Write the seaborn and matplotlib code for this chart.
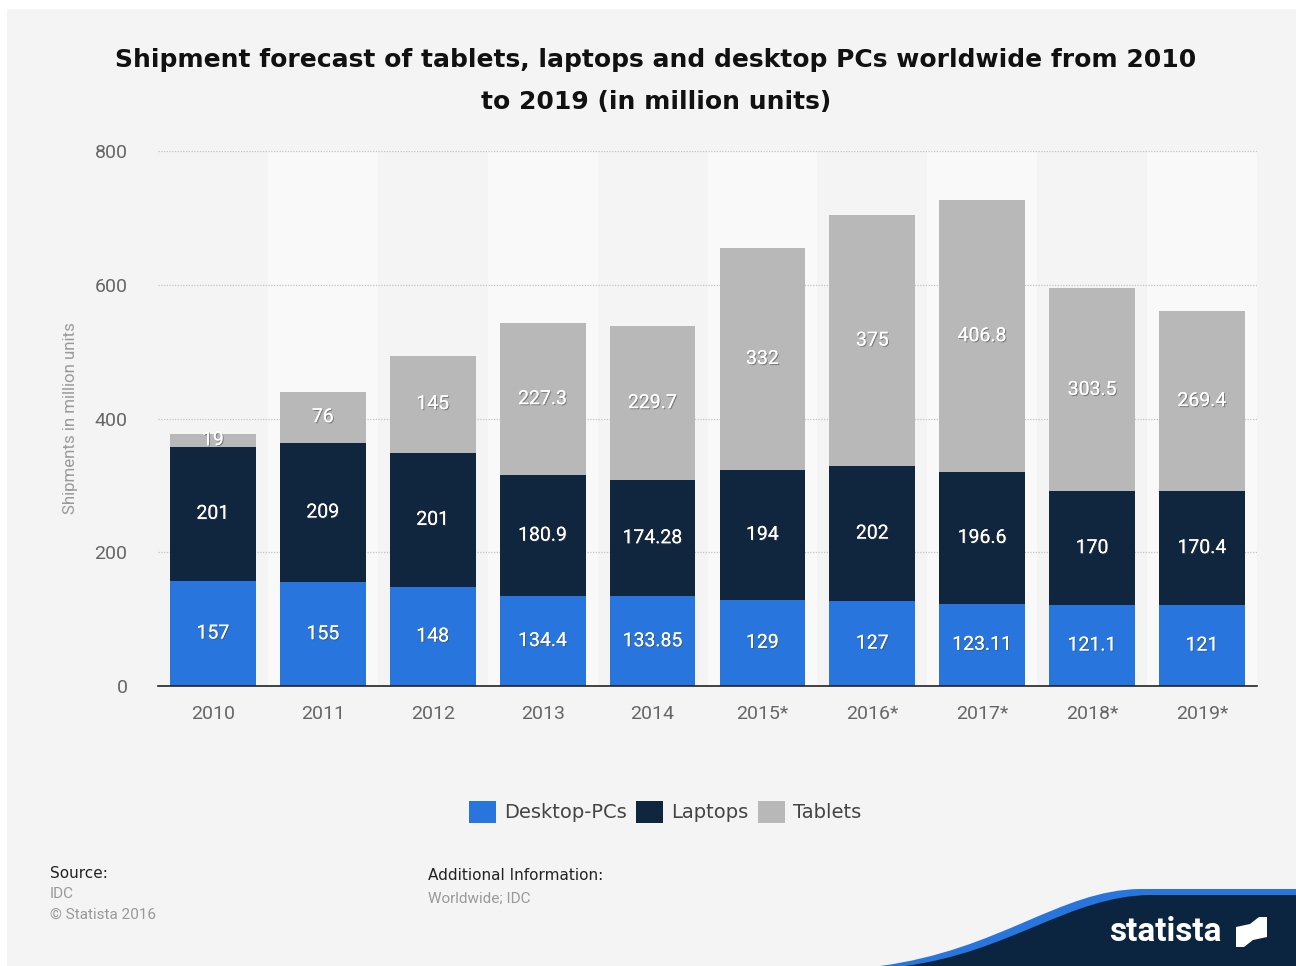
import matplotlib
matplotlib.use("Agg")
import matplotlib.pyplot as plt
import matplotlib.patheffects as pe
from matplotlib.path import Path
from matplotlib.patches import PathPatch, Rectangle
import numpy as np
import pandas as pd
import seaborn as sns

years = ["2010", "2011", "2012", "2013", "2014", "2015*", "2016*", "2017*", "2018*", "2019*"]
desktop = [157, 155, 148, 134.4, 133.85, 129, 127, 123.11, 121.1, 121]
laptops = [201, 209, 201, 180.9, 174.28, 194, 202, 196.6, 170, 170.4]
tablets = [19, 76, 145, 227.3, 229.7, 332, 375, 406.8, 303.5, 269.4]
series_names = ["Desktop-PCs", "Laptops", "Tablets"]
colors = ["#2876dd", "#10253e", "#b8b8b8"]

sns.set_theme(style="white")
plt.rcParams['font.family'] = ['DejaVu Sans']
narrow = "Roboto"

W, H = 1296, 966
fig = plt.figure(figsize=(W / 100, H / 100), dpi=100, facecolor="white")
fig.patches.append(Rectangle((7 / W, 0), 1 - 7 / W, 1 - 9 / H, transform=fig.transFigure,
                             facecolor="#f4f4f4", edgecolor="none", zorder=-10))

ax = fig.add_axes([158 / W, 1 - 686 / H, (1257 - 158) / W, (686 - 151) / H])
ax.set_facecolor("none")
ax.set_zorder(2)

df = pd.DataFrame({"year": years, "Desktop-PCs": desktop, "Laptops": laptops, "Tablets": tablets})
long = df.melt(id_vars="year", var_name="type", value_name="value")

for i in range(len(years)):
    if i % 2 == 1:
        ax.axvspan(i - 0.5, i + 0.5, ymin=0, ymax=1, facecolor="#f9f9f9", edgecolor="none", zorder=0)

for y in [200, 400, 600, 800]:
    ax.axhline(y, color="#c4c4c4", lw=0.9, ls=(0, (1, 1.2)), zorder=0.5)

bottom = np.zeros(len(years))
for name, col in zip(series_names, colors):
    vals = np.array(df[name], dtype=float)
    sub = long[long["type"] == name]
    sns.barplot(data=sub, x="year", y="value", color=col, width=0.78, ax=ax,
                bottom=bottom, saturation=1, errorbar=None, zorder=2, label=name,
                linewidth=0, edgecolor="none")
    for i, v in enumerate(vals):
        txt = f"{v:g}"
        ax.text(i, bottom[i] + v / 2, txt, ha="center", va="center", color="white",
                fontsize=14, family=narrow, zorder=5,
                path_effects=[pe.withSimplePatchShadow(offset=(0.8, -0.8), shadow_rgbFace="#444444", alpha=0.5),
                              pe.Normal()])
    bottom = bottom + vals

if ax.get_legend() is not None:
    ax.get_legend().remove()

ax.set_xlim(-0.5, len(years) - 0.5)
ax.set_ylim(0, 800)
ax.set_yticks([0, 200, 400, 600, 800])
ax.tick_params(axis="both", length=0, labelsize=14, labelcolor="#666666")
ax.tick_params(axis="y", pad=22)
ax.tick_params(axis="x", pad=14)
for lab in ax.get_xticklabels() + ax.get_yticklabels():
    lab.set_family(narrow)
ax.set_xlabel("")
ax.set_ylabel("Shipments in million units", fontsize=12.2, color="#999999", labelpad=12, family=narrow)
for s in ["top", "right", "left"]:
    ax.spines[s].set_visible(False)
ax.spines["bottom"].set_color("#222222")
ax.spines["bottom"].set_linewidth(1.2)
ax.spines["bottom"].set_zorder(6)

handles, labels = ax.get_legend_handles_labels()
leg = fig.legend(handles, labels, loc="center", bbox_to_anchor=(665 / W, 1 - 812 / H), ncol=3,
                 frameon=False, fontsize=14, handlelength=1.4, handleheight=1.4, handletextpad=0.4,
                 columnspacing=0.5, labelcolor="#444444")

fig.text(656 / W, 1 - 81 / H,
         "Shipment forecast of tablets, laptops and desktop PCs worldwide from 2010\nto 2019 (in million units)",
         ha="center", va="center", fontsize=18, fontweight="bold", color="#111111", linespacing=1.9)

fig.text(50 / W, 1 - 873 / H, "Source:", fontsize=11, color="#222222", va="center")
fig.text(50 / W, 1 - 894 / H, "IDC", fontsize=11, color="#999999", va="center", family=narrow)
fig.text(50 / W, 1 - 915 / H, "© Statista 2016", fontsize=11, color="#999999", va="center", family=narrow)
fig.text(428 / W, 1 - 876 / H, "Additional Information:", fontsize=11, color="#222222", va="center")
fig.text(428 / W, 1 - 899 / H, "Worldwide; IDC", fontsize=11, color="#999999", va="center", family=narrow)

def fx(x):
    return x / W
def fy(y):
    return 1 - y / H

codes = [Path.MOVETO, Path.CURVE4, Path.CURVE4, Path.CURVE4, Path.LINETO, Path.LINETO, Path.CLOSEPOLY]
verts_blue = [(fx(880), fy(966)), (fx(1000), fy(950)), (fx(1060), fy(890)), (fx(1140), fy(889)),
              (fx(1296), fy(889)), (fx(1296), fy(966)), (fx(880), fy(966))]
fig.patches.append(PathPatch(Path(verts_blue, codes), facecolor="#2876dd", edgecolor="none",
                             transform=fig.transFigure, zorder=1))
verts_dark = [(fx(905), fy(966)), (fx(1010), fy(952)), (fx(1070), fy(896)), (fx(1150), fy(895)),
              (fx(1296), fy(895)), (fx(1296), fy(966)), (fx(905), fy(966))]
fig.patches.append(PathPatch(Path(verts_dark, codes), facecolor="#0b2540", edgecolor="none",
                             transform=fig.transFigure, zorder=1.1))
fig.text(1165 / W, 1 - 932 / H, "statista", fontsize=24, color="white", fontweight="bold",
         ha="center", va="center", family="Roboto", zorder=3)
lx0, ly0, lx1, ly1 = 1236, 917, 1267, 947
mark = [(fx(lx0), fy(ly1)), (fx(lx0), fy(ly0 + 10)), (fx(1250), fy(ly0 + 7)), (fx(lx1 - 8), fy(ly0)),
        (fx(lx1), fy(ly0)), (fx(lx1), fy(ly1 - 10)), (fx(1253), fy(ly1 - 7)), (fx(lx0 + 8), fy(ly1)),
        (fx(lx0), fy(ly1))]
fig.patches.append(PathPatch(Path(mark), facecolor="white", edgecolor="none", transform=fig.transFigure, zorder=3))

fig.savefig("out.png", dpi=100, facecolor="white")
